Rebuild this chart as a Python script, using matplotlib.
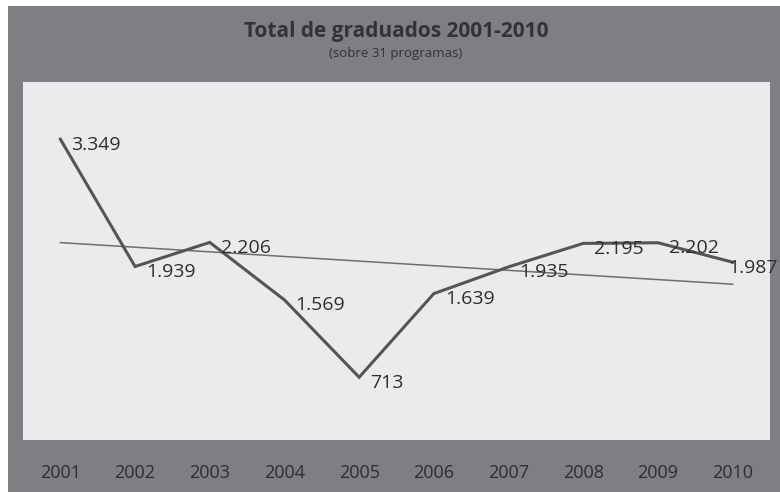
import numpy as np
import matplotlib.pyplot as plt
from matplotlib.patches import Rectangle

plt.rcParams['font.family'] = ['Open Sans', 'DejaVu Sans']

years = ['2001', '2002', '2003', '2004', '2005', '2006', '2007', '2008', '2009', '2010']
graduados = [3349, 1939, 2206, 1569, 713, 1639, 1935, 2195, 2202, 1987]
etiquetas = ['3.349', '1.939', '2.206', '1.569', '713', '1.639', '1.935', '2.195', '2.202', '1.987']

W, H = 780, 492
fig = plt.figure(figsize=(W / 100, H / 100), dpi=100, facecolor='white')
# fondo gris
fondo = Rectangle((8 / W, 0), 1 - 8 / W, 1 - 6 / H, transform=fig.transFigure,
                  facecolor='#7e7f83', edgecolor='none', zorder=-5)
fig.add_artist(fondo)

ax = fig.add_axes([23 / W, 52 / H, 747 / W, 358 / H])
ax.set_zorder(1)
ax.set_facecolor('#ebebed')
for s in ax.spines.values():
    s.set_visible(False)

x = np.arange(len(years))
ax.plot(x, graduados, color='#555558', lw=2.2, solid_joinstyle='miter', zorder=3)

# linea de tendencia
m, b = np.polyfit(x, graduados, 1)
ax.plot(x, m * x + b, color='#6e6e72', lw=1.1, zorder=2)

for i, (xi, v, t) in enumerate(zip(x, graduados, etiquetas)):
    dx = 8 if i < len(x) - 1 else -3
    ax.annotate(t, (xi, v), xytext=(dx, -4), textcoords='offset points',
                ha='left', va='center', fontsize=14, color='#2e2e30',
                annotation_clip=False, zorder=4)

ax.set_xlim(-0.5, 9.5)
ax.set_ylim(18, 3982)
ax.set_yticks([])
ax.set_xticks(x)
ax.set_xticklabels(years, fontsize=13, color='#2e2e30')
ax.tick_params(axis='x', length=0, pad=17)

fig.text(396 / W, 1 - 31 / H, 'Total de graduados 2001-2010', ha='center', va='center',
         fontsize=15, fontweight='bold', color='#333336')
fig.text(396 / W, 1 - 53 / H, '(sobre 31 programas)', ha='center', va='center',
         fontsize=9.5, color='#333336')

fig.savefig('out.png', dpi=100, facecolor=fig.get_facecolor())
